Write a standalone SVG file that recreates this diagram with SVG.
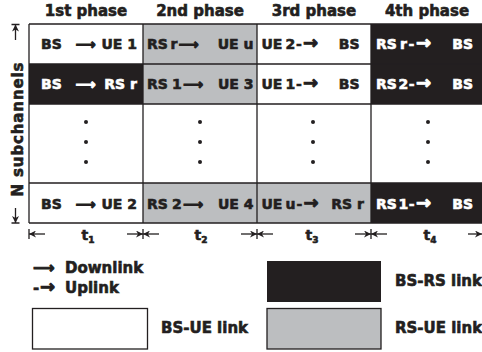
<svg xmlns="http://www.w3.org/2000/svg" width="482" height="352" viewBox="0 0 482 352">
<style>
.t{font-family:"DejaVu Sans","Liberation Sans",sans-serif;font-weight:bold;font-size:14px;fill:#231f20;stroke:#231f20;stroke-width:0.6px}
.h{font-size:15px}
.w{fill:#ffffff;stroke:#ffffff}
.sub{font-size:9px}
.a{stroke-width:1px}
.da{font-size:18px;stroke-width:0.9px}
.ln{stroke:#231f20;stroke-width:1.3;fill:none}
.bk{fill:#231f20}
.gy{fill:#bcbec0}
.wh{fill:#ffffff}
.dot{fill:#231f20}
</style>
<defs>
<marker id="ah" viewBox="0 0 10 10" refX="10" refY="5" markerWidth="7" markerHeight="7" orient="auto" markerUnits="userSpaceOnUse">
<path d="M0,0 L10,5 L0,10 L3,5 Z" fill="#231f20"/>
</marker>
</defs>
<rect x="0" y="0" width="482" height="352" fill="#ffffff"/>

<g id="headers">
<text class="t h" x="86" y="16" text-anchor="middle">1st phase</text>
<text class="t h" x="200" y="16" text-anchor="middle">2nd phase</text>
<text class="t h" x="314" y="16" text-anchor="middle">3rd phase</text>
<text class="t h" x="427" y="16" text-anchor="middle">4th phase</text>
</g>

<g id="cell-1-1"><rect class="wh" x="29" y="24" width="114" height="40"/>
<text class="t" y="49"><tspan x="41">BS</tspan><tspan class="a" x="75.5">⟶</tspan><tspan x="137" text-anchor="end">UE 1</tspan></text></g>
<g id="cell-1-2"><rect class="gy" x="143" y="24" width="114" height="40"/>
<text class="t" y="49"><tspan x="147">RS</tspan><tspan x="170.5">r</tspan><tspan class="a" x="178.5">⟶</tspan><tspan x="253.5" text-anchor="end">UE u</tspan></text></g>
<g id="cell-1-3"><rect class="wh" x="257" y="24" width="114" height="40"/>
<text class="t" y="49"><tspan x="261.5">UE</tspan><tspan x="285.5">2</tspan><tspan x="296">-</tspan><tspan class="da" x="303">→</tspan><tspan x="359.5" text-anchor="end">BS</tspan></text></g>
<g id="cell-1-4"><rect class="bk" x="371" y="24" width="111" height="40"/>
<text class="t w" y="49"><tspan x="376">RS</tspan><tspan x="400">r</tspan><tspan x="408.5">-</tspan><tspan class="da" x="416">→</tspan><tspan x="473" text-anchor="end">BS</tspan></text></g>

<g id="cell-2-1"><rect class="bk" x="29" y="64" width="114" height="40"/>
<text class="t w" y="89"><tspan x="41">BS</tspan><tspan class="a" x="75.5">⟶</tspan><tspan x="137" text-anchor="end">RS r</tspan></text></g>
<g id="cell-2-2"><rect class="gy" x="143" y="64" width="114" height="40"/>
<text class="t" y="89"><tspan x="147">RS</tspan><tspan x="172">1</tspan><tspan class="a" x="183">⟶</tspan><tspan x="253.5" text-anchor="end">UE 3</tspan></text></g>
<g id="cell-2-3"><rect class="wh" x="257" y="64" width="114" height="40"/>
<text class="t" y="89"><tspan x="261.5">UE</tspan><tspan x="285.5">1</tspan><tspan x="296">-</tspan><tspan class="da" x="303">→</tspan><tspan x="359.5" text-anchor="end">BS</tspan></text></g>
<g id="cell-2-4"><rect class="bk" x="371" y="64" width="111" height="40"/>
<text class="t w" y="89"><tspan x="376">RS</tspan><tspan x="398.5">2</tspan><tspan x="408.8">-</tspan><tspan class="da" x="416">→</tspan><tspan x="473" text-anchor="end">BS</tspan></text></g>

<g id="cell-3-1"><rect class="wh" x="29" y="104" width="114" height="79"/>
<circle class="dot" cx="86" cy="122" r="2"/><circle class="dot" cx="86" cy="142" r="2"/><circle class="dot" cx="86" cy="162" r="2"/></g>
<g id="cell-3-2"><rect class="wh" x="143" y="104" width="114" height="79"/>
<circle class="dot" cx="200" cy="122" r="2"/><circle class="dot" cx="200" cy="142" r="2"/><circle class="dot" cx="200" cy="162" r="2"/></g>
<g id="cell-3-3"><rect class="wh" x="257" y="104" width="114" height="79"/>
<circle class="dot" cx="313" cy="122" r="2"/><circle class="dot" cx="313" cy="142" r="2"/><circle class="dot" cx="313" cy="162" r="2"/></g>
<g id="cell-3-4"><rect class="wh" x="371" y="104" width="111" height="79"/>
<circle class="dot" cx="428" cy="122" r="2"/><circle class="dot" cx="428" cy="142" r="2"/><circle class="dot" cx="428" cy="162" r="2"/></g>

<g id="cell-4-1"><rect class="wh" x="29" y="183" width="114" height="40"/>
<text class="t" y="209"><tspan x="41">BS</tspan><tspan class="a" x="75.5">⟶</tspan><tspan x="137" text-anchor="end">UE 2</tspan></text></g>
<g id="cell-4-2"><rect class="gy" x="143" y="183" width="114" height="40"/>
<text class="t" y="209"><tspan x="147">RS</tspan><tspan x="172">2</tspan><tspan class="a" x="183">⟶</tspan><tspan x="253.5" text-anchor="end">UE 4</tspan></text></g>
<g id="cell-4-3"><rect class="gy" x="257" y="183" width="114" height="40"/>
<text class="t" y="209"><tspan x="261.5">UE</tspan><tspan x="285.5">u</tspan><tspan x="296.5">-</tspan><tspan class="da" x="303.5">→</tspan><tspan x="364" text-anchor="end">RS r</tspan></text></g>
<g id="cell-4-4"><rect class="bk" x="371" y="183" width="111" height="40"/>
<text class="t w" y="209"><tspan x="376">RS</tspan><tspan x="398.5">1</tspan><tspan x="408.8">-</tspan><tspan class="da" x="416">→</tspan><tspan x="473" text-anchor="end">BS</tspan></text></g>

<g id="grid">
<path class="ln" d="M29,24H482M29,64H482M29,104H482M29,183H482M29,223H482M29,24V223M143,24V223M257,24V223M371,24V223"/>
</g>

<g id="axis-label">
<text class="t h" transform="translate(23,129.5) rotate(-90)" text-anchor="middle" textLength="134" lengthAdjust="spacing">N subchannels</text>
</g>

<g id="connectors">
<path class="ln" d="M11.5,24.5H19.5M11.5,223H19.5"/>
<line class="ln" x1="15.5" y1="40" x2="15.5" y2="24.5" marker-end="url(#ah)"/>
<line class="ln" x1="15.5" y1="208" x2="15.5" y2="223" marker-end="url(#ah)"/>
<path class="ln" d="M29,229V239M143,229V239M257,229V239M371,229V239"/>
<line class="ln" x1="45" y1="234" x2="29" y2="234" marker-end="url(#ah)"/>
<line class="ln" x1="127" y1="234" x2="143" y2="234" marker-end="url(#ah)"/>
<line class="ln" x1="159" y1="234" x2="143" y2="234" marker-end="url(#ah)"/>
<line class="ln" x1="241" y1="234" x2="257" y2="234" marker-end="url(#ah)"/>
<line class="ln" x1="273" y1="234" x2="257" y2="234" marker-end="url(#ah)"/>
<line class="ln" x1="355" y1="234" x2="371" y2="234" marker-end="url(#ah)"/>
<line class="ln" x1="387" y1="234" x2="371" y2="234" marker-end="url(#ah)"/>
<line class="ln" x1="468" y1="234" x2="482" y2="234" marker-end="url(#ah)"/>
</g>

<g id="durations">
<text class="t" x="88" y="239.5" text-anchor="middle">t<tspan class="sub" dy="3">1</tspan></text>
<text class="t" x="201" y="239.5" text-anchor="middle">t<tspan class="sub" dy="3">2</tspan></text>
<text class="t" x="312" y="239.5" text-anchor="middle">t<tspan class="sub" dy="3">3</tspan></text>
<text class="t" x="430" y="239.5" text-anchor="middle">t<tspan class="sub" dy="3">4</tspan></text>
</g>

<g id="legend">
<text class="t h" y="273"><tspan class="a" x="33">⟶</tspan><tspan x="65">Downlink</tspan></text>
<text class="t h" y="292.5"><tspan x="33">-</tspan><tspan class="da" x="40">→</tspan><tspan x="65">Uplink</tspan></text>
<g id="legend-bsue"><rect x="32.5" y="308.5" width="115" height="40.5" fill="#ffffff" stroke="#231f20" stroke-width="1.3"/>
<text class="t h" x="161" y="333">BS-UE link</text></g>
<g id="legend-bsrs"><rect x="267" y="261" width="114" height="41" fill="#231f20"/>
<text class="t h" x="395" y="286">BS-RS link</text></g>
<g id="legend-rsue"><rect x="267" y="308.5" width="114" height="40.5" fill="#bcbec0" stroke="#231f20" stroke-width="1.3"/>
<text class="t h" x="395" y="333">RS-UE link</text></g>
</g>
</svg>
